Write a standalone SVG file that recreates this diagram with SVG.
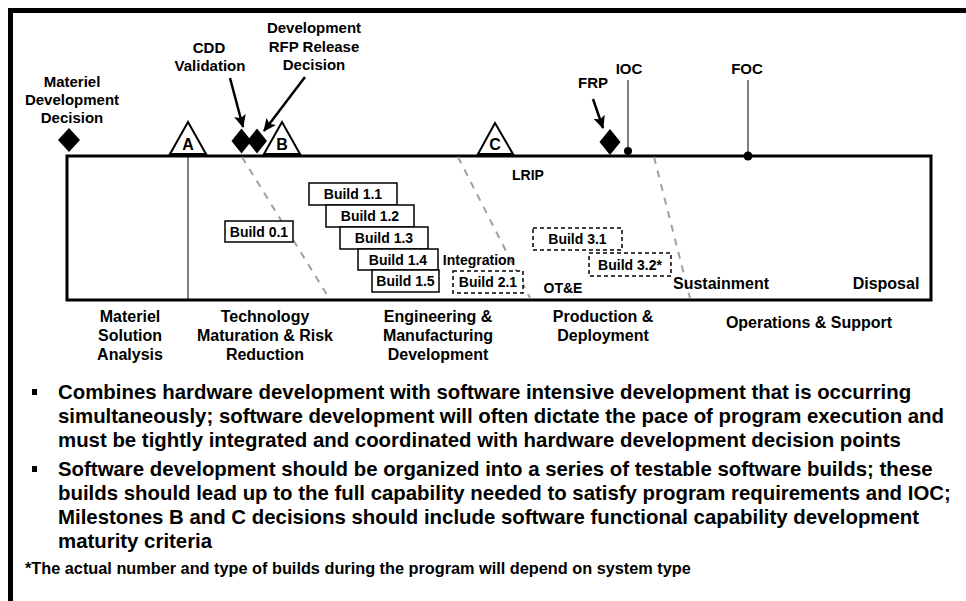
<svg xmlns="http://www.w3.org/2000/svg" width="966" height="601" viewBox="0 0 966 601">
<defs>
<style>
text{font-family:"Liberation Sans",Arial,Helvetica,sans-serif;font-weight:bold;fill:#000}
.lbl{font-size:15px;text-anchor:middle}
.ph{font-size:16px;text-anchor:middle}
.bx{fill:#fff;stroke:#000;stroke-width:1.5}
.dbx{fill:#fff;stroke:#000;stroke-width:1.5;stroke-dasharray:4 3}
.bt{font-size:14px;text-anchor:middle}
.tri{fill:#fff;stroke:#000;stroke-width:2}
.tl{font-size:16px;text-anchor:middle}
.gd{stroke:#a0a0a0;stroke-width:2;stroke-dasharray:7 7;fill:none}
.bul{font-size:20.4px}
.arr{stroke:#000;stroke-width:2.5;fill:none;marker-end:url(#ah)}
.thin{stroke:#000;stroke-width:1;fill:none}
.dia{fill:#000}
</style>
<marker id="ah" markerUnits="userSpaceOnUse" markerWidth="14" markerHeight="12" refX="12" refY="6" orient="auto"><path d="M0,0 L13,6 L0,12 L3,6 z" fill="#000"/></marker>
</defs>
<rect x="0" y="0" width="966" height="601" fill="#fff"/>
<g id="border">
<rect x="8" y="8" width="958" height="5" fill="#000"/>
<rect x="8" y="8" width="5" height="593" fill="#000"/>
</g>
<g id="timeline">
<rect x="67" y="156" width="864" height="144" fill="#fff" stroke="#000" stroke-width="3"/>
</g>
<g id="connectors">
<line class="thin" x1="188" y1="156" x2="188" y2="299"/>
<line class="gd" x1="242" y1="157" x2="329" y2="298"/>
<line class="gd" x1="458" y1="157" x2="530" y2="298"/>
<line class="gd" x1="654" y1="157" x2="690" y2="298"/>
<path class="arr" d="M230,78 L243,127"/>
<path class="arr" d="M305,77 L264,131"/>
<path class="arr" d="M593,99 L603,128"/>
<line class="thin" x1="628" y1="80" x2="628" y2="151"/>
<line class="thin" x1="748" y1="80" x2="748" y2="156"/>
</g>
<g id="mdd">
<polygon class="dia" points="69,128 80,140 69,152 58,140"/>
<text class="lbl" x="72" y="87">Materiel</text>
<text class="lbl" x="72" y="105">Development</text>
<text class="lbl" x="72" y="123">Decision</text>
</g>
<g id="milestone-a">
<polygon class="tri" points="188,122 170,154 206,154"/>
<text class="tl" x="188" y="149.5">A</text>
</g>
<g id="cdd">
<polygon class="dia" points="241.5,128.5 251.5,141 241.5,153.5 231.5,141"/>
<text class="lbl" x="209" y="53">CDD</text>
<text class="lbl" x="210" y="71">Validation</text>
</g>
<g id="rfp">
<polygon class="dia" points="257,128.5 267,141 257,153.5 247,141"/>
<text class="lbl" x="314" y="33">Development</text>
<text class="lbl" x="314" y="52">RFP Release</text>
<text class="lbl" x="314" y="70">Decision</text>
</g>
<g id="milestone-b">
<polygon class="tri" points="282,122 264,154 300,154"/>
<text class="tl" x="282" y="149.5">B</text>
</g>
<g id="milestone-c">
<polygon class="tri" points="495,123 478,154 513,154"/>
<text class="tl" x="495" y="149.5">C</text>
</g>
<g id="frp">
<polygon class="dia" points="610,129 620.5,142 610,155 599.5,142"/>
<text class="lbl" x="593" y="88">FRP</text>
</g>
<g id="ioc">
<circle cx="628" cy="151" r="4" fill="#000"/>
<text class="lbl" x="629" y="74">IOC</text>
</g>
<g id="foc">
<circle cx="748" cy="156" r="4.5" fill="#000"/>
<text class="lbl" x="747" y="74">FOC</text>
</g>
<g id="build-0-1"><rect class="bx" x="225" y="221" width="68" height="21"/><text class="bt" x="259" y="236.5">Build 0.1</text></g>
<g id="build-1-1"><rect class="bx" x="309" y="183" width="88" height="22"/><text class="bt" x="353" y="199">Build 1.1</text></g>
<g id="build-1-2"><rect class="bx" x="326" y="205" width="88" height="22"/><text class="bt" x="370" y="221">Build 1.2</text></g>
<g id="build-1-3"><rect class="bx" x="340" y="227" width="88" height="22"/><text class="bt" x="384" y="243">Build 1.3</text></g>
<g id="build-1-4"><rect class="bx" x="358" y="249" width="80" height="21"/><text class="bt" x="398" y="264.5">Build 1.4</text></g>
<g id="build-1-5"><rect class="bx" x="372" y="270" width="67" height="22"/><text class="bt" x="405.5" y="286">Build 1.5</text></g>
<g id="build-2-1"><rect class="dbx" x="453" y="271" width="70" height="22"/><text class="bt" x="488" y="287">Build 2.1</text></g>
<g id="build-3-1"><rect class="dbx" x="533" y="228" width="89" height="22"/><text class="bt" x="577.5" y="244">Build 3.1</text></g>
<g id="build-3-2"><rect class="dbx" x="589" y="253" width="82" height="23"/><text class="bt" x="630" y="269.5">Build 3.2*</text></g>
<g id="inner-labels">
<text class="bt" x="528" y="180">LRIP</text>
<text class="bt" x="479" y="265">Integration</text>
<text class="bt" x="563" y="293">OT&amp;E</text>
<text class="ph" x="721" y="289">Sustainment</text>
<text class="ph" x="886" y="289">Disposal</text>
</g>
<g id="phase-msa">
<text class="ph" x="130" y="322">Materiel</text>
<text class="ph" x="130" y="341">Solution</text>
<text class="ph" x="130" y="360">Analysis</text>
</g>
<g id="phase-tmrr">
<text class="ph" x="265" y="322">Technology</text>
<text class="ph" x="265" y="341">Maturation &amp; Risk</text>
<text class="ph" x="265" y="360">Reduction</text>
</g>
<g id="phase-emd">
<text class="ph" x="438" y="322">Engineering &amp;</text>
<text class="ph" x="438" y="341">Manufacturing</text>
<text class="ph" x="438" y="360">Development</text>
</g>
<g id="phase-pd">
<text class="ph" x="603" y="322">Production &amp;</text>
<text class="ph" x="603" y="341">Deployment</text>
</g>
<g id="phase-os">
<text class="ph" x="809" y="328">Operations &amp; Support</text>
</g>
<g id="bullets">
<rect x="32" y="389" width="5" height="6" fill="#000"/>
<text class="bul" x="58" y="399">Combines hardware development with software intensive development that is occurring</text>
<text class="bul" x="58" y="423">simultaneously; software development will often dictate the pace of program execution and</text>
<text class="bul" x="58" y="447">must be tightly integrated and coordinated with hardware development decision points</text>
<rect x="32" y="466" width="5" height="6" fill="#000"/>
<text class="bul" x="58" y="476">Software development should be organized into a series of testable software builds; these</text>
<text class="bul" x="58" y="500">builds should lead up to the full capability needed to satisfy program requirements and IOC;</text>
<text class="bul" x="58" y="524">Milestones B and C decisions should include software functional capability development</text>
<text class="bul" x="58" y="548">maturity criteria</text>
<text x="25" y="574" style="font-size:16.3px">*The actual number and type of builds during the program will depend on system type</text>
</g>
</svg>
